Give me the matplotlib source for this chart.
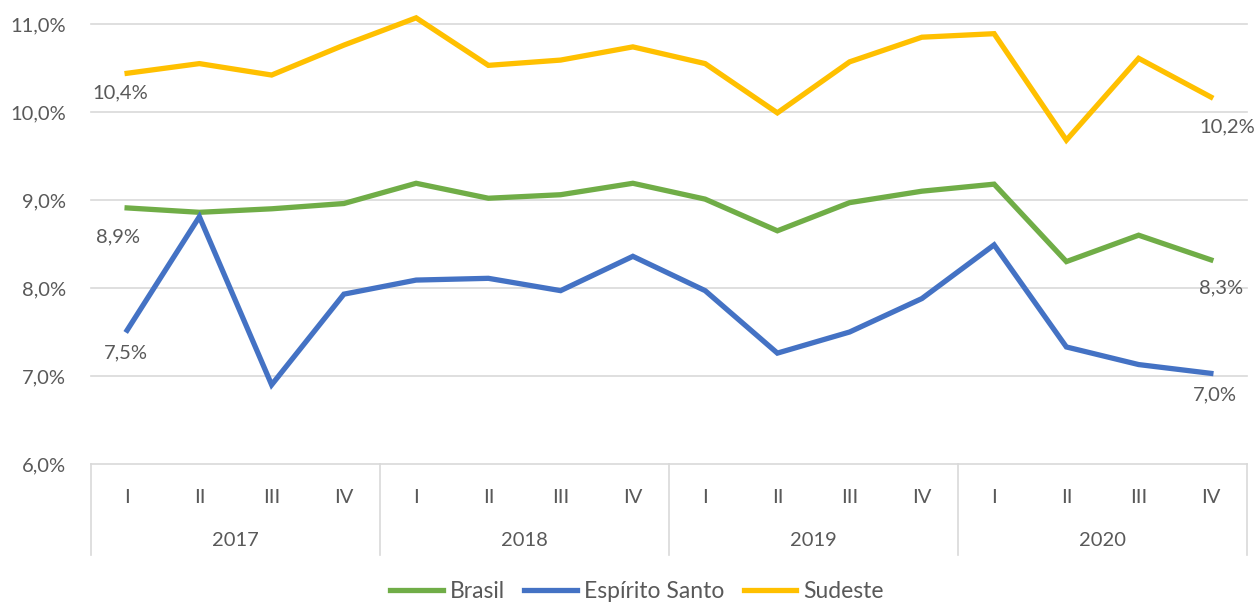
import matplotlib
matplotlib.use("Agg")
import matplotlib.pyplot as plt
import matplotlib.transforms as mtransforms
from matplotlib.lines import Line2D

plt.rcParams['font.family'] = ['Lato', 'DejaVu Sans']

years = ["2017", "2018", "2019", "2020"]
quarters = ["I", "II", "III", "IV"]
brasil = [8.91, 8.86, 8.90, 8.96, 9.19, 9.02, 9.06, 9.19,
          9.01, 8.65, 8.97, 9.10, 9.18, 8.30, 8.60, 8.32]
espirito_santo = [7.52, 8.81, 6.90, 7.93, 8.09, 8.11, 7.97, 8.36,
                  7.97, 7.26, 7.50, 7.88, 8.49, 7.33, 7.13, 7.03]
sudeste = [10.44, 10.55, 10.42, 10.76, 11.07, 10.53, 10.59, 10.74,
           10.55, 9.99, 10.57, 10.85, 10.89, 9.68, 10.61, 10.17]
yticks = [6, 7, 8, 9, 10, 11]

series = [("Brasil", brasil, "#70AD47"),
          ("Espírito Santo", espirito_santo, "#4472C4"),
          ("Sudeste", sudeste, "#FFC000")]

text_color = "#595959"
grid_color = "#D9D9D9"
fs = 14.5

W, H = 1259, 603
fig = plt.figure(figsize=(W / 100, H / 100), dpi=100)
left, right, top, bottom = 91, 1247, 24, 464
ax = fig.add_axes([left / W, 1 - bottom / H, (right - left) / W, (bottom - top) / H])

n = len(brasil)
x = list(range(n))
ax.set_xlim(-0.5, n - 0.5)
ax.set_ylim(yticks[0], yticks[-1])

for name, vals, col in series:
    ax.plot(x, vals, color=col, lw=3.8, solid_joinstyle='miter', clip_on=False, zorder=3)

# grid
for yv in yticks:
    ax.axhline(yv, color=grid_color, lw=1.2, zorder=1, clip_on=False)
for sp in ax.spines.values():
    sp.set_visible(False)

ax.set_yticks(yticks)
ax.set_yticklabels([f"{v:.1f}%".replace(".", ",") for v in yticks], color=text_color, fontsize=fs)
ax.tick_params(axis='y', length=0, pad=18)

ax.set_xticks(x)
ax.set_xticklabels(quarters * len(years), color=text_color, fontsize=fs)
ax.tick_params(axis='x', length=0, pad=18)

# year labels and separators
trans = mtransforms.blended_transform_factory(ax.transData, ax.transAxes)
sep_depth = (555 - bottom) / (bottom - top)
year_y = -(541 - bottom) / (bottom - top)
for i, yr in enumerate(years):
    ax.text(i * 4 + 1.5, year_y, yr, transform=trans, ha='center', va='center',
            color=text_color, fontsize=fs)
for k in range(len(years) + 1):
    ax.plot([k * 4 - 0.5, k * 4 - 0.5], [0, -sep_depth], transform=trans,
            color=grid_color, lw=1.2, clip_on=False)

# data labels (first and last)
def fmt(v):
    return f"{v:.1f}%".replace(".", ",")

first_offsets = {"Brasil": (-9, -29), "Espírito Santo": (-1, -23), "Sudeste": (-7, -20)}
last_offsets = {"Brasil": (10, -28), "Espírito Santo": (4, -22), "Sudeste": (16, -30)}
for name, vals, col in series:
    dx, dy = first_offsets[name]
    ax.annotate(fmt(vals[0]), (x[0], vals[0]), xytext=(dx * 0.72, dy * 0.72),
                textcoords='offset points', ha='center', va='center',
                color=text_color, fontsize=fs, annotation_clip=False)
    dx, dy = last_offsets[name]
    ax.annotate(fmt(vals[-1]), (x[-1], vals[-1]), xytext=(dx * 0.72, dy * 0.72),
                textcoords='offset points', ha='center', va='center',
                color=text_color, fontsize=fs, annotation_clip=False)

handles = [Line2D([0], [0], color=c, lw=3.8) for _, _, c in series]
leg = fig.legend(handles, [s[0] for s in series], loc='center',
                 bbox_to_anchor=(637 / W, 1 - 592 / H), ncol=3, frameon=False,
                 fontsize=16.5, handlelength=2.3, columnspacing=0.85, handletextpad=0.3)
for t in leg.get_texts():
    t.set_color(text_color)

fig.savefig("out.png", dpi=100, facecolor='white')
